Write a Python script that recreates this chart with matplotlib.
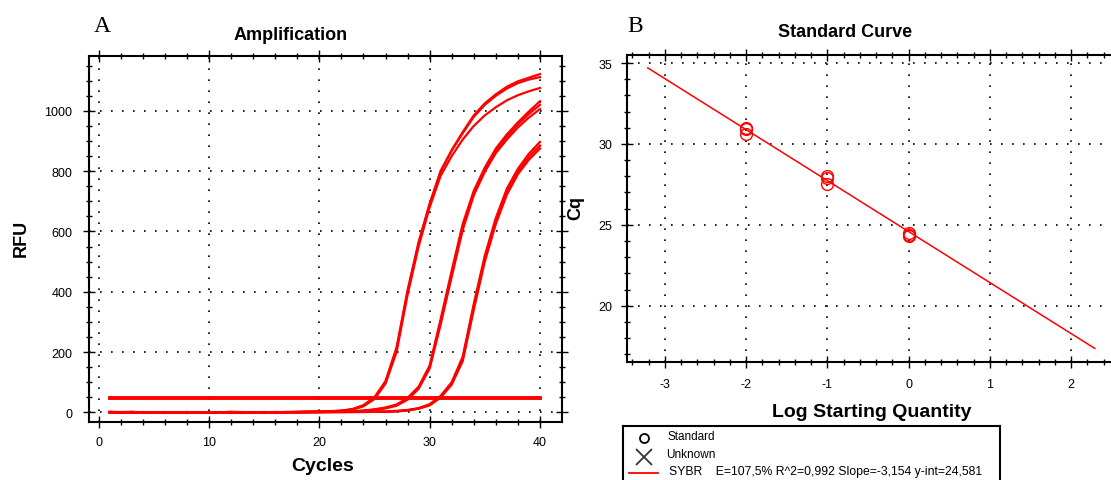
import matplotlib
matplotlib.use('Agg')
import matplotlib.pyplot as plt
from matplotlib.ticker import MultipleLocator

W, H = 1111, 481

# --- Amplification data (RFU per cycle) ---
cycles = list(range(1, 41))
rfu_curves = [
    # high concentration
    [2, 1, 0, -1, 0, 1, 0, -2, -1, 0, 1, 0, -1, 0, 1, 0, 0, 1, 2, 2,
     3, 5, 10, 22, 48, 100, 210, 400, 560, 690, 800, 870, 930, 985, 1025, 1055, 1080, 1098, 1110, 1122],
    [1, 0, 1, 0, -1, 0, 1, 0, -1, -1, 0, 1, 0, 0, 0, 1, 1, 2, 2, 3,
     4, 6, 11, 24, 50, 104, 215, 405, 565, 692, 800, 868, 926, 980, 1020, 1050, 1074, 1092, 1104, 1112],
    [0, 1, 2, 0, -1, -2, 0, 1, 0, -1, 0, 2, 1, 0, -1, 0, 1, 1, 2, 3,
     3, 5, 9, 20, 44, 95, 200, 390, 550, 680, 785, 850, 905, 950, 985, 1012, 1035, 1052, 1065, 1076],
    # middle concentration
    [1, 0, -1, 0, 1, 0, -1, 0, 1, 0, -1, 0, 0, 1, 0, 0, 1, 1, 1, 2,
     2, 3, 4, 6, 10, 16, 26, 48, 85, 155, 310, 470, 625, 735, 812, 875, 922, 962, 998, 1032],
    [0, -1, 0, 1, 0, -1, 0, 1, 0, -1, 0, 1, 0, 0, 1, 0, 1, 0, 1, 1,
     2, 2, 3, 5, 9, 15, 24, 45, 82, 150, 300, 460, 615, 728, 805, 868, 915, 955, 990, 1020],
    [-1, 0, 1, 0, 0, 1, 0, -1, 0, 1, 0, -1, 0, 1, 0, 1, 0, 1, 2, 1,
     1, 2, 3, 5, 8, 13, 22, 42, 78, 145, 292, 450, 605, 720, 798, 860, 905, 945, 978, 1006],
    # low concentration
    [0, 1, 0, -1, 0, 0, 1, 0, -1, 0, 1, 0, 0, -1, 0, 1, 0, 0, 1, 1,
     1, 1, 2, 2, 3, 3, 5, 8, 14, 27, 55, 100, 185, 360, 520, 645, 742, 808, 858, 897],
    [1, 0, 0, 1, -1, 0, 0, 1, 0, 0, -1, 0, 1, 0, 0, 0, 1, 0, 0, 1,
     1, 1, 1, 2, 2, 2, 4, 7, 13, 25, 52, 96, 178, 350, 510, 635, 732, 798, 848, 885],
    [-1, 0, 1, 0, 1, 0, -1, 0, 0, 1, 0, 0, -1, 0, 1, 0, 0, 1, 0, 0,
     1, 1, 1, 1, 2, 2, 3, 6, 12, 23, 49, 92, 170, 340, 500, 625, 722, 790, 838, 875],
]
threshold = 46
threshold_cycles = [1, 40]

# --- Standard curve data ---
log_qty = [-2, -2, -2, -1, -1, -1, 0, 0, 0]
cq_values = [31.0, 30.9, 30.6, 28.0, 27.9, 27.5, 24.5, 24.4, 24.3]
fit_slope = -3.154
fit_intercept = 24.581
fit_range = [-3.21, 2.29]
legend_text = 'SYBR    E=107,5% R^2=0,992 Slope=-3,154 y-int=24,581'

RED = '#ff0000'
plt.rcParams['font.family'] = ['Liberation Sans', 'DejaVu Sans']
plt.rcParams['axes.unicode_minus'] = False

fig = plt.figure(figsize=(W / 100, H / 100), dpi=100)


def px(x, y):
    return x / W, 1 - y / H


def style_axes(ax):
    for s in ax.spines.values():
        s.set_linewidth(1.5)
    ax.tick_params(which='both', direction='inout', top=True, right=True,
                   width=1.0, labelsize=9)
    ax.tick_params(which='major', length=8)
    ax.tick_params(which='minor', length=5)
    ax.grid(True, which='major', color='black', linewidth=1.2,
            linestyle=(0, (1, 5.6)))
    ax.set_axisbelow(True)


# ---------------- Panel A ----------------
axA = fig.add_axes([89.2 / W, (H - 422.7) / H, (561.8 - 89.2) / W, (422.7 - 56.7) / H])
for curve in rfu_curves:
    axA.plot(cycles, curve, color=RED, lw=1.6)
axA.plot(threshold_cycles, [threshold, threshold], color=RED, lw=2.8)
axA.set_xlim(-0.86, 41.98)
axA.set_ylim(-31, 1183)
axA.xaxis.set_major_locator(MultipleLocator(10))
axA.xaxis.set_minor_locator(MultipleLocator(2))
axA.yaxis.set_major_locator(MultipleLocator(200))
axA.yaxis.set_minor_locator(MultipleLocator(50))
style_axes(axA)
axA.tick_params(axis='y', pad=8)
axA.tick_params(axis='x', pad=6.5)

fig.text(*px(291, 35), 'Amplification', ha='center', va='center',
         fontsize=13, fontweight='bold')
fig.text(*px(323, 467), 'Cycles', ha='center', va='center',
         fontsize=14, fontweight='bold')
fig.text(*px(21, 238), 'RFU', ha='center', va='center', rotation=90,
         fontsize=13, fontweight='bold')
fig.text(*px(102, 26), 'A', ha='center', va='center', fontsize=17,
         family=['Liberation Serif', 'DejaVu Serif'])

# ---------------- Panel B ----------------
axB = fig.add_axes([626.8 / W, (H - 363.3) / H, (1120 - 626.8) / W, (363.3 - 56) / H])
fit_y = [fit_slope * x + fit_intercept for x in fit_range]
axB.plot(fit_range, fit_y, color=RED, lw=1.1)
axB.plot(log_qty, cq_values, linestyle='none', marker='o', markersize=8.5,
         markerfacecolor='none', markeredgecolor=RED, markeredgewidth=1.0)
axB.set_xlim(-3.467, 2.6)
axB.set_ylim(16.5, 35.5)
axB.xaxis.set_major_locator(MultipleLocator(1))
axB.xaxis.set_minor_locator(MultipleLocator(0.2))
axB.yaxis.set_major_locator(MultipleLocator(5))
axB.yaxis.set_minor_locator(MultipleLocator(1))
style_axes(axB)
axB.tick_params(axis='y', pad=6.5)
axB.tick_params(axis='x', pad=7.5)

fig.text(*px(845, 33), 'Standard Curve', ha='center', va='center',
         fontsize=13, fontweight='bold')
fig.text(*px(872, 413), 'Log Starting Quantity', ha='center', va='center',
         fontsize=14, fontweight='bold')
fig.text(*px(576, 208), 'Cq', ha='center', va='center', rotation=90,
         fontsize=13, fontweight='bold')
fig.text(*px(635, 27), 'B', ha='center', va='center', fontsize=17,
         family=['Liberation Serif', 'DejaVu Serif'])

# ---------------- Legend box ----------------
axL = fig.add_axes([622.7 / W, -0.06, (1000 - 622.7) / W, (H - 426.7) / H + 0.06])
axL.set_xlim(622.7, 1000)
axL.set_ylim(426.7 + (H - 426.7) + 0.06 * H, 426.7)
axL.set_xticks([])
axL.set_yticks([])
for s in axL.spines.values():
    s.set_linewidth(1.5)
axL.plot([644.3], [439.3], marker='o', markersize=6.5, markerfacecolor='none',
         markeredgecolor='black', markeredgewidth=1.3, linestyle='none')
axL.text(668, 437, 'Standard', fontsize=8.5, va='center', ha='left')
axL.plot([644], [458], marker='x', markersize=11, color='#333333',
         markeredgewidth=1.3, linestyle='none')
axL.text(666, 454.5, 'Unknown', fontsize=8.5, va='center', ha='left')
axL.plot([629, 658], [474.3, 474.3], color=RED, lw=1.3)
axL.text(669, 472, legend_text, fontsize=8.8, va='center', ha='left')

fig.savefig('out.png', dpi=100)
